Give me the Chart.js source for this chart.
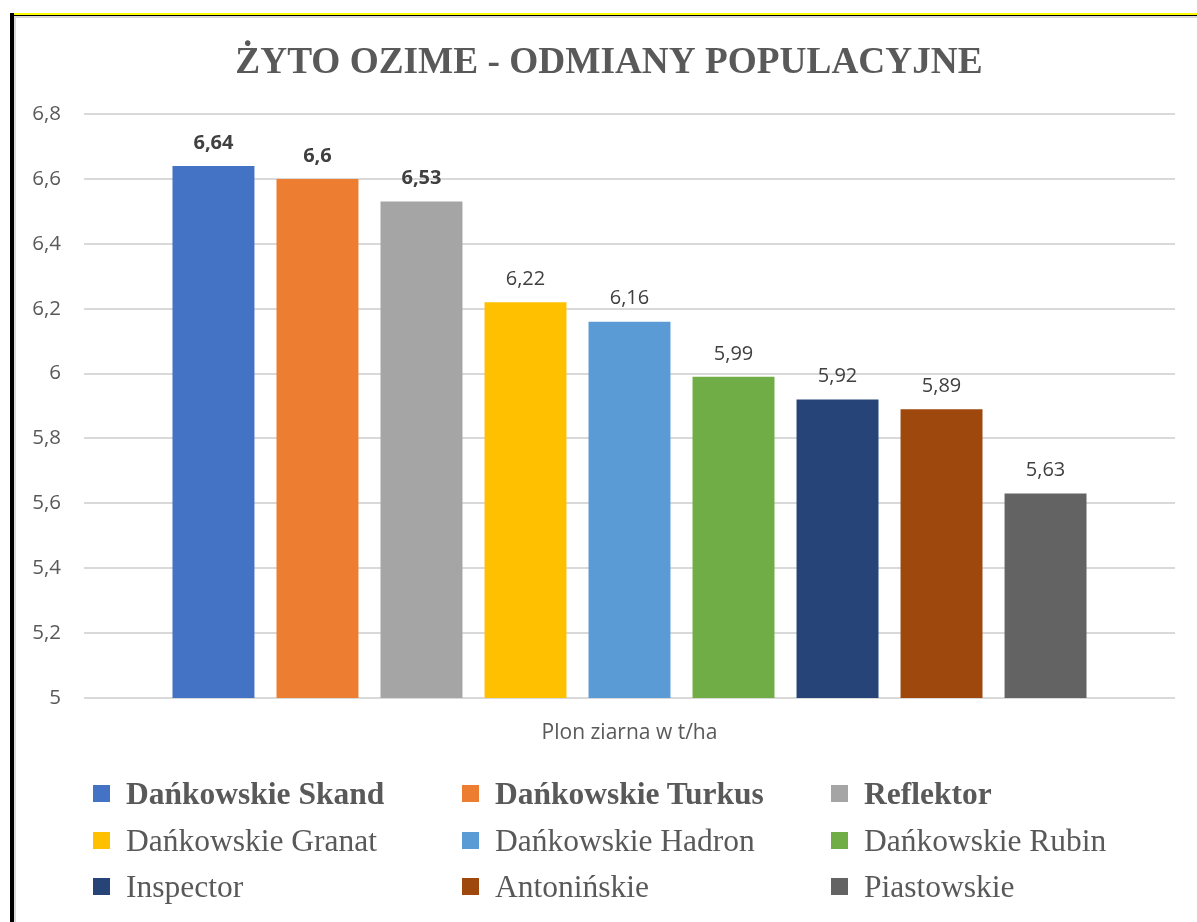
<!DOCTYPE html>
<html>
<head>
<meta charset="utf-8">
<script src="https://cdn.jsdelivr.net/npm/chart.js@4"></script>
<style>
  html, body { margin: 0; padding: 0; background: #fff; width: 1197px; height: 922px; overflow: hidden; }
  #wrap { position: relative; width: 1197px; height: 922px; }
  canvas { position: absolute; left: 0; top: 0; }
  .line { position: absolute; }
  .leg-item { position: absolute; font-family: "Liberation Serif", "DejaVu Serif", serif; font-size: 31.5px; color: #595959; line-height: 1; white-space: nowrap; }
  .leg-box { position: absolute; width: 17px; height: 17px; }
</style>
</head>
<body>
<div id="wrap">
  <canvas id="c" width="1197" height="922"></canvas>
  <div class="line" style="left:10px;top:13px;width:1187px;height:2px;background:#FFFF00"></div>
  <div class="line" style="left:10px;top:15px;width:1187px;height:1px;background:#000"></div>
  <div class="line" style="left:10px;top:13px;width:4px;height:909px;background:#000"></div>
  <div class="line" style="left:14px;top:16px;width:1183px;height:2px;background:#D9D9D9"></div>
  <div class="line" style="left:14px;top:16px;width:2px;height:906px;background:#D9D9D9"></div>
  <div id="legend"></div>
</div>
<script>
const titleText = 'ŻYTO OZIME - ODMIANY POPULACYJNE';
const categories = ['Plon ziarna w t/ha'];
const varieties = ['Dańkowskie Skand', 'Dańkowskie Turkus', 'Reflektor', 'Dańkowskie Granat', 'Dańkowskie Hadron', 'Dańkowskie Rubin', 'Inspector', 'Antonińskie', 'Piastowskie'];
const yields = [6.64, 6.6, 6.53, 6.22, 6.16, 5.99, 5.92, 5.89, 5.63];
const colors = ['#4472C4', '#ED7D31', '#A5A5A5', '#FFC000', '#5B9BD5', '#70AD47', '#264478', '#9E480E', '#636363'];
const yTickLabels = ['5', '5,2', '5,4', '5,6', '5,8', '6', '6,2', '6,4', '6,6', '6,8'];

const fmt = v => String(v).replace('.', ',');

const datasets = varieties.map((name, i) => ({
  label: name,
  data: [yields[i]],
  backgroundColor: colors[i],
  borderWidth: 0,
  categoryPercentage: 0.858,
  barPercentage: 0.788
}));

const valueLabels = {
  id: 'valueLabels',
  afterDatasetsDraw(chart) {
    const ctx = chart.ctx;
    ctx.save();
    ctx.textAlign = 'center';
    ctx.textBaseline = 'middle';
    ctx.fillStyle = '#404040';
    chart.data.datasets.forEach((ds, i) => {
      const meta = chart.getDatasetMeta(i);
      meta.data.forEach((bar, j) => {
        ctx.font = (i < 3 ? 'bold ' : '') + '20px "Open Sans"';
        ctx.fillText(fmt(ds.data[j]), bar.x, bar.y - 23);
      });
    });
    ctx.restore();
  }
};

const chartTitle = {
  id: 'chartTitle',
  afterDraw(chart) {
    const ctx = chart.ctx;
    ctx.save();
    ctx.textAlign = 'center';
    ctx.textBaseline = 'alphabetic';
    ctx.fillStyle = '#595959';
    ctx.font = 'bold 37.3px "Liberation Serif"';
    ctx.fillText(titleText, 609, 73);
    ctx.restore();
  }
};

Chart.defaults.font.family = '"Open Sans"';
Chart.defaults.color = '#595959';

const chart = new Chart(document.getElementById('c'), {
  type: 'bar',
  data: { labels: categories, datasets },
  options: {
    responsive: false,
    animation: false,
    layout: { padding: { left: 14, right: 22, top: 114, bottom: 0 } },
    plugins: {
      legend: { display: false },
      tooltip: { enabled: false },
      title: { display: false }
    },
    scales: {
      x: {
        grid: { display: false, drawTicks: false },
        border: { display: false },
        ticks: { font: { size: 21 }, color: '#595959', padding: 22 },
        afterFit(scale) { scale.height = 224; }
      },
      y: {
        min: 5, max: 6.8,
        grid: { color: '#D9D9D9', lineWidth: 2, drawTicks: false },
        border: { display: false },
        ticks: {
          stepSize: 0.2,
          padding: 23,
          font: { size: 20.5 },
          color: '#595959',
          callback: (v, idx) => yTickLabels[idx]
        },
        afterFit(scale) { scale.width = 70; }
      }
    }
  },
  plugins: [valueLabels, chartTitle]
});

// HTML legend built from the chart datasets
const legend = document.getElementById('legend');
const colX = [93, 462, 831];
const rowY = [793, 840, 886];
chart.data.datasets.forEach((ds, i) => {
  const col = i % 3, row = Math.floor(i / 3);
  const box = document.createElement('div');
  box.className = 'leg-box';
  box.style.left = colX[col] + 'px';
  box.style.top = (rowY[row] - 8.5) + 'px';
  box.style.background = ds.backgroundColor;
  legend.appendChild(box);
  const t = document.createElement('div');
  t.className = 'leg-item';
  t.textContent = ds.label;
  t.style.left = (colX[col] + 33) + 'px';
  t.style.top = (rowY[row] - 15.4) + 'px';
  if (i < 3) t.style.fontWeight = 'bold';
  legend.appendChild(t);
});
</script>
</body>
</html>
